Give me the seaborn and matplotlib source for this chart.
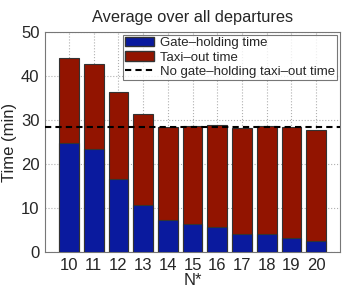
import pandas as pd
import matplotlib
matplotlib.use("Agg")
import matplotlib.pyplot as plt
import seaborn as sns
from matplotlib.patches import Patch
from matplotlib.lines import Line2D

# valores
n_star = [10, 11, 12, 13, 14, 15, 16, 17, 18, 19, 20]
gate_holding = [24.8, 23.4, 16.6, 10.7, 7.3, 6.4, 5.7, 4.2, 4.2, 3.2, 2.4]
total_time = [44.1, 42.8, 36.4, 31.3, 28.5, 28.6, 28.8, 28.1, 28.7, 28.4, 27.8]
no_gate_taxi_out = 28.4

azul = '#0a1a9e'
rojo = '#921400'

df = pd.DataFrame({'N': n_star, 'gate': gate_holding, 'total': total_time})

sns.set_style('white')
plt.rcParams['font.family'] = ['Liberation Sans', 'DejaVu Sans']

fig = plt.figure(figsize=(3.46, 2.9), dpi=100)
ax = fig.add_axes([0.130, 0.131, 0.853, 0.759])

sns.barplot(x='N', y='total', data=df, color=rojo, saturation=1, width=0.8,
            edgecolor='#333333', linewidth=0.8, ax=ax, zorder=2)
sns.barplot(x='N', y='gate', data=df, color=azul, saturation=1, width=0.8,
            edgecolor='#333333', linewidth=0.8, ax=ax, zorder=3)
ax.axhline(no_gate_taxi_out, color='black', linestyle='--', linewidth=1.5,
           dashes=(3, 2), zorder=4)

ax.set_xlim(-0.97, 10.97)
ax.set_ylim(0, 50)
ax.set_yticks([0, 10, 20, 30, 40, 50])
ax.grid(True, linestyle=':', color='#b0b0b0', linewidth=0.8, zorder=0)
ax.set_axisbelow(True)
for s in ax.spines.values():
    s.set_visible(True)
    s.set_color('#777777')
    s.set_linewidth(0.8)
ax.tick_params(axis='both', labelsize=12, length=3, direction='in', pad=4)

ax.set_title('Average over all departures', fontsize=11.8, pad=7)
ax.set_xlabel('N*', fontsize=12, labelpad=0)
ax.set_ylabel('Time (min)', fontsize=12, labelpad=3)

handles = [Patch(facecolor=azul, edgecolor='#333333'),
           Patch(facecolor=rojo, edgecolor='#333333'),
           Line2D([0], [0], color='black', linestyle='--', linewidth=1.5, dashes=(3, 2))]
labels = ['Gate\u2013holding time', 'Taxi\u2013out time', 'No gate\u2013holding taxi\u2013out time']
leg = ax.legend(handles, labels, loc='upper right', fontsize=9.5, frameon=True,
                fancybox=False, edgecolor='#555555', borderpad=0.2, labelspacing=0.15,
                handlelength=2.2, handletextpad=0.4, borderaxespad=0.2)
leg.get_frame().set_linewidth(0.8)

fig.savefig('out.png', dpi=100)
